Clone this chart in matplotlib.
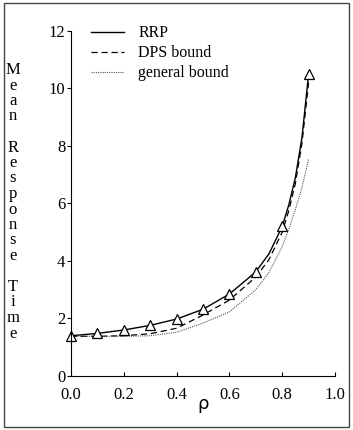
import matplotlib.pyplot as plt
from matplotlib.patches import Rectangle

# ---- data ----
rho_pts = [0.0, 0.1, 0.2, 0.3, 0.4, 0.5, 0.6, 0.7, 0.8, 0.9]
rrp_pts = [1.40, 1.48, 1.60, 1.76, 1.98, 2.32, 2.85, 3.62, 5.20, 10.5]

rho_curve = [0.0, 0.1, 0.2, 0.3, 0.4, 0.5, 0.6, 0.7, 0.75, 0.8, 0.825, 0.85, 0.875, 0.9]
rrp_curve = [1.40, 1.48, 1.60, 1.76, 1.98, 2.32, 2.85, 3.62, 4.25, 5.20, 5.95, 6.90, 8.30, 10.5]
dps_curve = [1.38, 1.38, 1.40, 1.47, 1.66, 2.12, 2.64, 3.44, 4.05, 5.00, 5.75, 6.70, 8.10, 10.2]
gen_curve = [1.38, 1.38, 1.38, 1.40, 1.52, 1.84, 2.23, 3.00, 3.60, 4.50, 5.10, 5.80, 6.55, 7.55]

xticks = [0.0, 0.2, 0.4, 0.6, 0.8, 1.0]
yticks = [0, 2, 4, 6, 8, 10, 12]
ylabel_text = "Mean Response Time"

serif = ['Liberation Serif', 'DejaVu Serif']
plt.rcParams['font.family'] = serif

fig = plt.figure(figsize=(3.53, 4.30), dpi=100)
ax = fig.add_axes([0.201, 0.1256, 0.748, 0.8024])

ax.plot(rho_curve, rrp_curve, color='black', lw=1.0, label='RRP')
ax.plot(rho_curve, dps_curve, color='black', lw=0.9, ls=(0, (5, 3)), label='DPS bound')
ax.plot(rho_curve, gen_curve, color='#555555', lw=0.8, ls=(0, (1, 1)), label='general bound')
ax.plot(rho_pts, rrp_pts, ls='none', marker='^', markersize=6.5,
        markerfacecolor='white', markeredgecolor='black', markeredgewidth=0.9,
        clip_on=False)

ax.set_xlim(0, 1.0)
ax.set_ylim(0, 12)
ax.set_xticks(xticks)
ax.set_xticklabels([f"{t:.1f}" for t in xticks])
ax.set_yticks(yticks)
ax.spines['top'].set_visible(False)
ax.spines['right'].set_visible(False)
ax.tick_params(axis='y', direction='out', length=3, labelsize=12, pad=1)
ax.tick_params(axis='x', direction='in', length=3, labelsize=12, pad=8)

# rho label under the axis
ax.text(0.5, -0.055, 'ρ', transform=ax.transAxes, ha='center', va='top',
        fontsize=13, family=['DejaVu Sans'])

# stacked vertical y label
y0, step = 70, 15.5
for i, ch in enumerate(ylabel_text):
    fig.text(13 / 353, 1 - (y0 + i * step) / 430, ch, ha='center', va='center',
             fontsize=12)

leg = ax.legend(loc='upper left', bbox_to_anchor=(0.05, 1.035), frameon=False,
                fontsize=11.5, handlelength=2.1, handletextpad=0.9,
                labelspacing=0.25, borderaxespad=0)

# outer frame
fig.patches.append(Rectangle((4 / 353, 3 / 430), 345 / 353, 424 / 430,
                             transform=fig.transFigure, fill=False,
                             edgecolor='#444444', lw=1.0))

fig.savefig('out.png', dpi=100)
